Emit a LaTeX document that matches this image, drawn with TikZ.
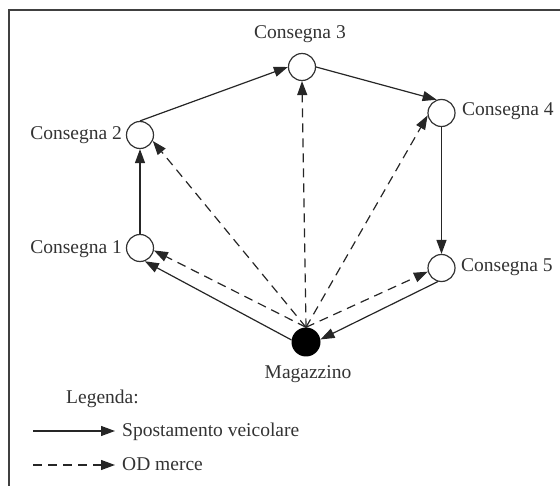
\documentclass[tikz,border=0pt]{standalone}
\usepackage{fontspec}
\setmainfont{Liberation Serif}
\usetikzlibrary{arrows.meta}
\begin{document}
\begin{tikzpicture}[x=1pt,y=-1pt,
  every node/.style={inner sep=0pt, text=black!80},
  stop/.style={circle, draw=black!80, line width=1.2pt, fill=white, minimum size=27pt},
  depot/.style={circle, fill=black, minimum size=29pt},
  lbl/.style={font=\fontsize{19.5}{22}\selectfont},
  route/.style={draw=black!85, line width=1.2pt, -{Triangle[length=14pt,width=10pt]}},
  flow/.style={route, dash pattern=on 9pt off 6pt},
  framed/.style={draw=black!75, line width=1.8pt},
]
\useasboundingbox (0,0) rectangle (560,486);
\clip (0,0) rectangle (560,486);

% outer frame (top and left edges)
\draw[framed] (9,500) -- (9,10) -- (580,10);

% delivery stops and depot
\node[stop] (c1) at (140,248) {};
\node[stop] (c2) at (140,135) {};
\node[stop] (c3) at (302,67) {};
\node[stop] (c4) at (441.5,113) {};
\node[stop] (c5) at (441.5,268) {};
\node[depot] (m) at (306,342) {};

% labels
\node[lbl, anchor=east] (l1) at (122,249) {Consegna 1};
\node[lbl, anchor=east] (l2) at (122,135) {Consegna 2};
\node[lbl, anchor=base] (l3) at (300,39) {Consegna 3};
\node[lbl, anchor=west] (l4) at (462,111) {Consegna 4};
\node[lbl, anchor=west] (l5) at (461,267) {Consegna 5};
\node[lbl, anchor=base] (lm) at (308,379) {Magazzino};

% vehicle tour
\draw[route] (m.172) -- (c1.-70);
\draw[route] (c1.north) -- (c2.south);
\draw[route] (c2.north) -- (c3.west);
\draw[route] (c3.east) -- (c4.110);
\draw[route] (c4.south) -- (c5.north);
\draw[route] (c5.-105) -- (m.10);

% goods origin-destination
\draw[flow] (m.north) -- (c1.-10);
\draw[flow] (m.north) -- (c2.-25);
\draw[flow] (m.north) -- (c3.south);
\draw[flow] (m.north) -- (c4.190);
\draw[flow] (m.north) -- (c5.195);

% legend
\node[lbl, anchor=base west] (lg) at (66,403) {Legenda:};
\coordinate (s0) at (33,431);
\coordinate (s1) at (115,431);
\draw[route] (s0) -- (s1);
\node[lbl, anchor=base west] (ls) at (122,436) {Spostamento veicolare};
\coordinate (d0) at (33,465);
\coordinate (d1) at (115,465);
\draw[flow] (d0) -- (d1);
\node[lbl, anchor=base west] (ld) at (122,470) {OD merce};
\end{tikzpicture}
\end{document}
